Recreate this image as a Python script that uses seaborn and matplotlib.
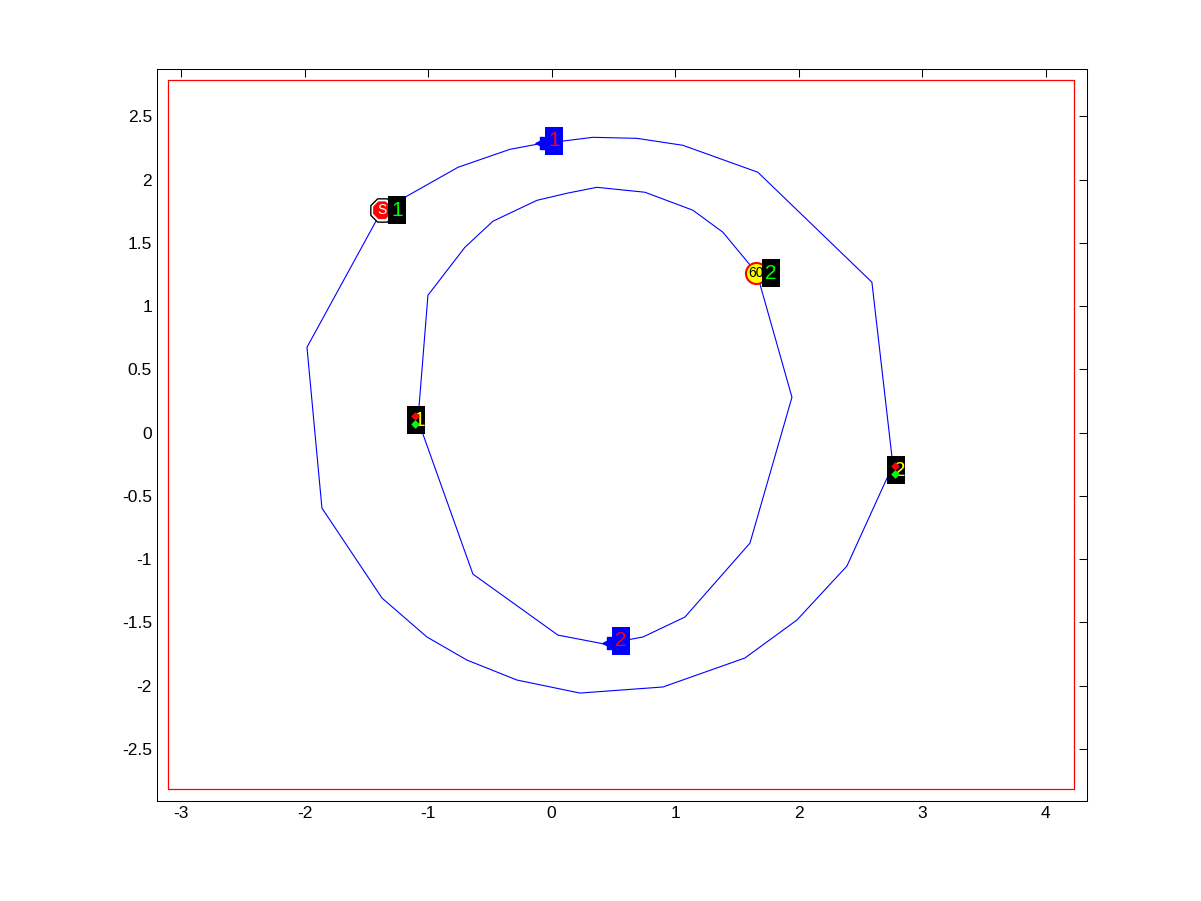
import numpy as np
import pandas as pd
import matplotlib
matplotlib.use("Agg")
import matplotlib.pyplot as plt
import seaborn as sns

# track outline, outer lane
outer_x = [-1.373, -0.758, -0.338, -0.119, 0.334, 0.690, 1.062, 1.669, 2.592, 2.762,
           2.390, 1.985, 1.564, 0.901, 0.229, -0.281, -0.686, -1.009, -1.373, -1.859,
           -1.980, -1.373]
outer_y = [1.758, 2.097, 2.239, 2.279, 2.334, 2.326, 2.271, 2.058, 1.189, -0.257,
           -1.054, -1.481, -1.781, -2.010, -2.058, -1.955, -1.797, -1.615, -1.307, -0.596,
           0.675, 1.758]

# inner lane
inner_x = [-1.082, -0.637, 0.051, 0.431, 0.739, 1.079, 1.605, 1.945, 1.661, 1.386,
           1.143, 0.755, 0.366, 0.124, -0.119, -0.475, -0.702, -1.001, -1.082]
inner_y = [0.099, -1.118, -1.600, -1.671, -1.615, -1.457, -0.873, 0.280, 1.260, 1.584,
           1.758, 1.900, 1.939, 1.892, 1.836, 1.671, 1.465, 1.086, 0.099]

# world boundary
bound_x = [-3.105, 4.227, 4.227, -3.105, -3.105]
bound_y = [-2.816, -2.816, 2.784, 2.784, -2.816]

# stop sign
stop_x, stop_y = -1.373, 1.758
# speed sign
speed_x, speed_y = 1.653, 1.260
speed_text = "60"
# traffic lights
light_x = [-1.098, 2.786]
light_y = [0.099, -0.296]
light_labels = ["1", "2"]
# cars
car_x = [-0.087, 0.455]
car_y = [2.287, -1.663]
car_labels = ["1", "2"]

# id boxes for signs
sign_id_x = [-1.252, 1.775]
sign_id_y = [1.758, 1.260]
sign_id_labels = ["1", "2"]

sns.set_style("white")
plt.rcParams["font.family"] = ["Liberation Sans", "DejaVu Sans"]

fig, ax = plt.subplots(figsize=(12.01, 9.01), dpi=100)
fig.subplots_adjust(left=0.1307, right=0.905, bottom=0.111, top=0.923)

sns.lineplot(x=bound_x, y=bound_y, sort=False, estimator=None, color="red", lw=0.9, ax=ax)
sns.lineplot(x=outer_x, y=outer_y, sort=False, estimator=None, color="blue", lw=0.8, ax=ax)
sns.lineplot(x=inner_x, y=inner_y, sort=False, estimator=None, color="blue", lw=0.8, ax=ax)

# tall label box marker (about 17 x 27 px)
tag = [(-0.33, -0.5), (0.33, -0.5), (0.33, 0.5), (-0.33, 0.5), (-0.33, -0.5)]
tag_s = 380


def id_box(x, y, lab, fc, tc, dx=0.0):
    ax.scatter([x], [y], marker=tag, s=tag_s, color=fc, linewidths=0, zorder=8)
    ax.text(x + dx, y, lab, color=tc, fontsize=15, ha="center", va="center", zorder=10)


# stop sign
ax.scatter([stop_x], [stop_y], marker="8", s=330, color="white", edgecolors="black", linewidths=1, zorder=5)
ax.scatter([stop_x], [stop_y], marker="8", s=190, color="red", edgecolors="none", zorder=6)
ax.text(stop_x, stop_y, "S", color="white", fontsize=10, ha="center", va="center", zorder=7)

# speed sign
ax.scatter([speed_x], [speed_y], marker="o", s=230, color="yellow", edgecolors="red", linewidths=1.5, zorder=5)
ax.text(speed_x, speed_y, speed_text, color="black", fontsize=10, ha="center", va="center", zorder=7)

for x, y, lab in zip(sign_id_x, sign_id_y, sign_id_labels):
    id_box(x, y, lab, "black", "#00ff00")

# traffic lights
for x, y, lab in zip(light_x, light_y, light_labels):
    id_box(x, y, lab, "black", "yellow", dx=0.03)
    ax.scatter([x - 0.008], [y + 0.032], marker="D", s=12, color="red", zorder=11)
    ax.scatter([x - 0.008], [y - 0.032], marker="D", s=12, color="#00ff00", zorder=11)

# cars
for x, y, lab in zip(car_x, car_y, car_labels):
    ax.scatter([x + 0.01], [y], marker="<", s=90, color="blue", zorder=8)
    ax.scatter([x + 0.045], [y], marker="s", s=70, color="blue", zorder=8)
    id_box(x + 0.106, y + 0.018, lab, "blue", "red")

ax.set_xlim(-3.194, 4.332)
ax.set_ylim(-2.911, 2.871)
ax.set_xticks(np.arange(-3, 5, 1))
ax.set_yticks(np.arange(-2.5, 2.51, 0.5))
ax.set_xticklabels([f"{v:g}" for v in np.arange(-3, 5, 1)])
ax.set_yticklabels([f"{v:g}" for v in np.arange(-2.5, 2.51, 0.5)])
ax.tick_params(direction="in", length=6, width=0.75, top=True, right=True, labelsize=12.5,
               colors="black")
for s in ax.spines.values():
    s.set_color("black")
    s.set_linewidth(0.75)

fig.savefig("out.png", dpi=100, facecolor="white")
